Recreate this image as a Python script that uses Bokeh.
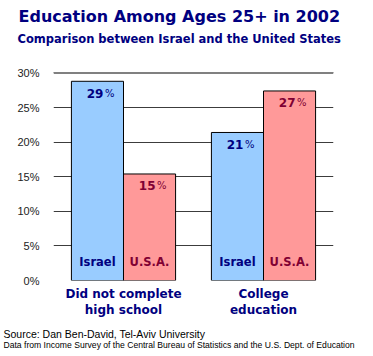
from bokeh.plotting import figure
from bokeh.models import (ColumnDataSource, FactorRange, Range1d, FixedTicker,
                          PrintfTickFormatter, Span, Title)
from bokeh.transform import dodge
from bokeh.core.properties import value
from bokeh.embed import file_html
from bokeh.resources import INLINE

# ---- data ----
categories = ["Did not complete\nhigh school", "College\neducation"]
israel = [28.8, 21.4]
usa = [15.4, 27.4]
y_ticks = [0, 5, 10, 15, 20, 25, 30]
title_text = "Education Among Ages 25+ in 2002"
subtitle_text = "Comparison between Israel and the United States"
source_text = "Source: Dan Ben-David, Tel-Aviv University"
data_text = "Data from Income Survey of the Central Bureau of Statistics and the U.S. Dept. of Education"

NAVY = "#000080"
MAROON = "#800033"
BLUE = "#99CCFF"
PINK = "#FF9999"
BOLD = "DejaVu Sans"

src = ColumnDataSource(dict(
    cat=categories,
    israel=israel,
    usa=usa,
    israel_lbl=[f"{v:.0f}" for v in israel],
    usa_lbl=[f"{v:.0f}" for v in usa],
    pct=["%"] * len(categories),
    zero=[0] * len(categories),
    israel_name=["Israel"] * len(categories),
    usa_name=["U.S.A."] * len(categories),
))

p = figure(width=373, height=356, x_range=FactorRange(*categories),
           y_range=Range1d(0, 33.25), output_backend="svg",
           toolbar_location=None, min_border_left=53, min_border_right=40,
           min_border_top=50, min_border_bottom=76)
p.outline_line_color = None
p.background_fill_color = "white"
p.border_fill_color = "white"

bw = 0.372
off = 0.186
p.vbar(x=dodge("cat", -off, range=p.x_range), top="israel", width=bw, source=src,
       fill_color=BLUE, line_color="black", line_width=1)
p.vbar(x=dodge("cat", off, range=p.x_range), top="usa", width=bw, source=src,
       fill_color=PINK, line_color="black", line_width=1)

# value labels
for col, lbl, color, sign in [("israel", "israel_lbl", NAVY, -1), ("usa", "usa_lbl", MAROON, 1)]:
    xd = dodge("cat", sign * off, range=p.x_range)
    p.text(x=xd, y=col, text=lbl, source=src, text_align="right",
           text_baseline="alphabetic", x_offset=6, y_offset=12,
           text_font=value(BOLD), text_font_style="bold", text_font_size="12px",
           text_color=color)
    p.text(x=xd, y=col, text="pct", source=src, text_align="left",
           text_baseline="alphabetic", x_offset=7.5, y_offset=12,
           text_font=value(BOLD), text_font_size="10px", text_color=color)

p.text(x=dodge("cat", -off, range=p.x_range), y="zero", text="israel_name", source=src,
       text_align="center", text_baseline="alphabetic", y_offset=-19,
       text_font=value(BOLD), text_font_style="bold", text_font_size="11.5px",
       text_color=NAVY)
p.text(x=dodge("cat", off, range=p.x_range), y="zero", text="usa_name", source=src,
       text_align="center", text_baseline="alphabetic", y_offset=-19,
       text_font=value(BOLD), text_font_style="bold", text_font_size="11.5px",
       text_color=MAROON)

# axes
p.xgrid.grid_line_color = None
p.ygrid.grid_line_color = "#3c3c3c"
p.ygrid.grid_line_width = 1
p.yaxis.ticker = FixedTicker(ticks=y_ticks)
p.yaxis.formatter = PrintfTickFormatter(format="%d%%")
p.yaxis.axis_line_color = None
p.yaxis.major_tick_line_color = None
p.yaxis.minor_tick_line_color = None
p.yaxis.major_label_standoff = 8
p.yaxis.major_label_text_font = "Liberation Sans"
p.yaxis.major_label_text_font_size = "11px"
p.yaxis.major_label_text_color = "#222222"

p.xaxis.axis_line_color = None
p.xaxis.major_tick_line_color = None
p.xaxis.minor_tick_line_color = None
p.xaxis.major_label_standoff = 0
p.xaxis.major_label_text_font = BOLD
p.xaxis.major_label_text_font_style = "bold"
p.xaxis.major_label_text_font_size = "12px"
p.xaxis.major_label_text_color = NAVY
p.xaxis.major_label_text_line_height = 1.2
p.xaxis.axis_label = " "
p.xaxis.axis_label_text_font_size = "2px"
p.xaxis.axis_label_standoff = 0

p.add_layout(Span(location=y_ticks[-1], dimension="width", line_color="#808080", line_width=2))

# titles (first added "above" sits nearest the plot)
p.add_layout(Title(text=subtitle_text, align="left", offset=-36, standoff=9.4,
                   text_font=BOLD, text_font_style="bold", text_font_size="11.5px",
                   text_color=NAVY), "above")
p.add_layout(Title(text=title_text, align="left", offset=-35, standoff=0,
                   text_font=BOLD, text_font_style="bold", text_font_size="16px",
                   text_color=NAVY), "above")
p.add_layout(Title(text=source_text, align="left", offset=-50, standoff=0,
                   text_font="Liberation Sans", text_font_style="normal",
                   text_font_size="10.5px", text_color="black"), "below")
p.add_layout(Title(text=data_text, align="left", offset=-50, standoff=-4,
                   text_font="Liberation Sans", text_font_style="normal",
                   text_font_size="8.6px", text_color="black"), "below")

open("out.html", "w").write(file_html(p, INLINE))
